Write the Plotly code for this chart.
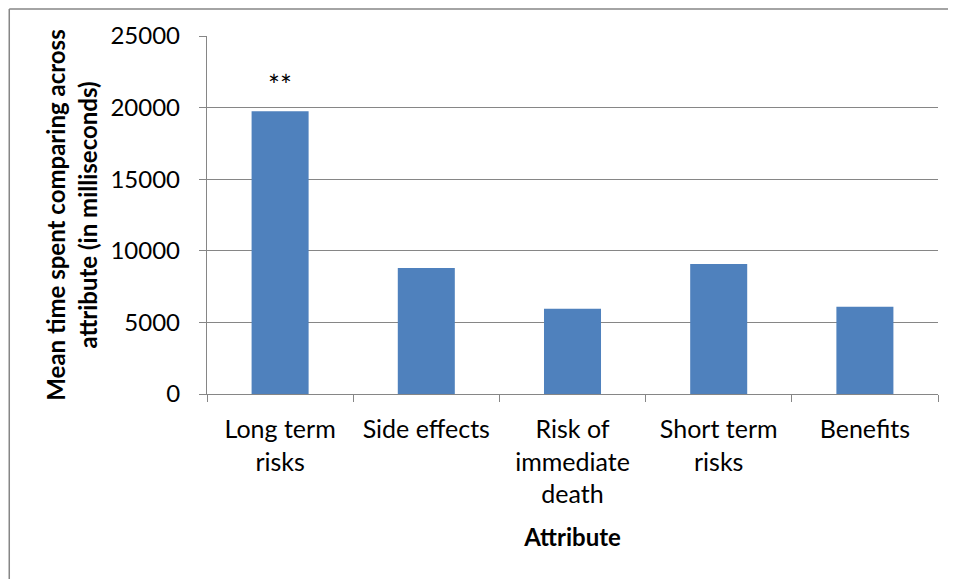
import plotly.graph_objects as go

categories = ["Long term risks", "Side effects", "Risk of immediate death", "Short term risks", "Benefits"]
tick_labels = ["Long term<br>risks", "Side effects", "Risk of<br>immediate<br>death", "Short term<br>risks", "Benefits"]
mean_time_ms = [19750, 8800, 5950, 9080, 6100]
significance = ["**", "", "", "", ""]
y_ticks = [0, 5000, 10000, 15000, 20000, 25000]
y_tick_labels = ["0", "5000", "10000", "15000", "20000", "25000"]

GRID = "#868686"
FONT = "Lato"

fig = go.Figure()
fig.add_trace(go.Bar(
    x=categories,
    y=mean_time_ms,
    marker=dict(color="#4F81BD", line=dict(width=0)),
    width=0.39,
    showlegend=False,
))

for cat, val, sig in zip(categories, mean_time_ms, significance):
    if sig:
        fig.add_annotation(x=cat, y=val, text=sig, showarrow=False,
                           yanchor="bottom", yshift=7,
                           font=dict(family=FONT, size=28, color="black"))

# outer chart border: only top and left edges are visible (chart cropped on right/bottom)
fig.add_shape(type="line", xref="paper", yref="paper",
              x0=-0.2705, x1=1.2, y0=1.0754, y1=1.0754,
              line=dict(color=GRID, width=1.5), layer="below")
fig.add_shape(type="line", xref="paper", yref="paper",
              x0=-0.2705, x1=-0.2705, y0=-0.6, y1=1.0754,
              line=dict(color=GRID, width=1.5), layer="below")

fig.update_layout(
    width=948, height=571,
    margin=dict(l=199, r=18, t=28, b=185, autoexpand=False),
    paper_bgcolor="white", plot_bgcolor="white",
    font=dict(family=FONT, size=24, color="black"),
    xaxis=dict(
        tickmode="array", tickvals=categories, ticktext=tick_labels,
        ticks="outside", tickson="boundaries", ticklen=7, tickcolor=GRID, tickwidth=1.3,
        showline=True, linecolor=GRID, linewidth=1.3,
        showgrid=False, automargin=False,
        ticklabelstandoff=13,
        tickfont=dict(family=FONT, size=25, color="black"),
        title=dict(text="<b>Attribute</b>", font=dict(family=FONT, size=24, color="black"), standoff=22),
    ),
    yaxis=dict(
        range=[0, 25000], tickmode="array", tickvals=y_ticks, ticktext=y_tick_labels,
        ticks="outside", ticklen=7, tickcolor=GRID, tickwidth=1.3,
        showline=True, linecolor=GRID, linewidth=1.3,
        showgrid=True, gridcolor=GRID, gridwidth=1.3,
        zeroline=False, automargin=False,
        ticklabelstandoff=14,
        tickfont=dict(family=FONT, size=24, color="black"),
        title=dict(text="<b>Mean time spent comparing across<br>attribute (in milliseconds)</b>",
                   font=dict(family=FONT, size=24, color="black"), standoff=6),
    ),
)

fig.write_html("out.html")
